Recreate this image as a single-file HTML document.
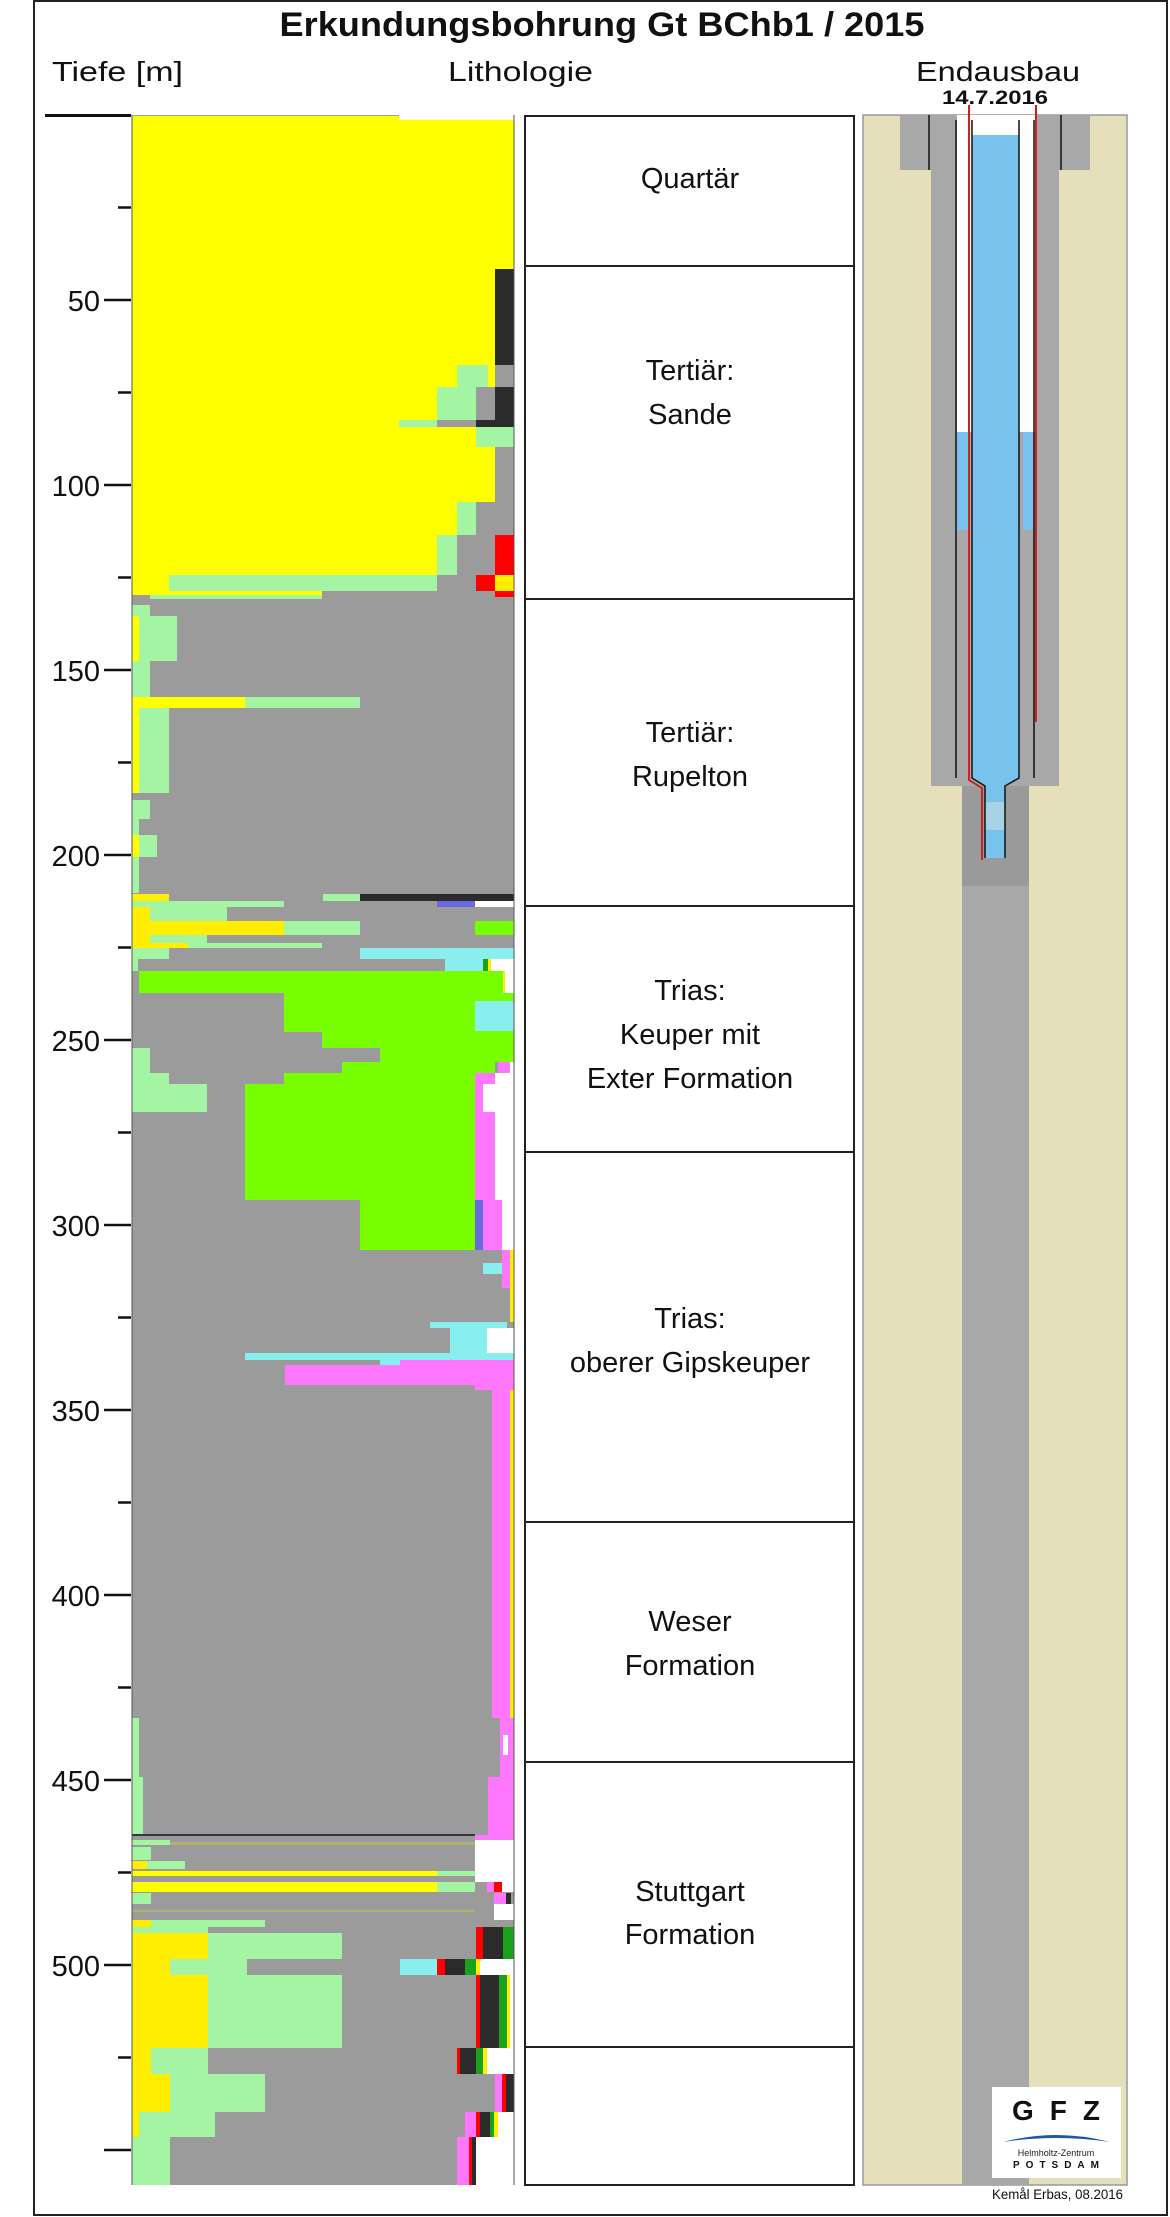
<!DOCTYPE html>
<html><head><meta charset="utf-8"><style>html,body{margin:0;padding:0;background:#fff}svg{display:block}</style></head>
<body>
<svg width="1170" height="2217" viewBox="0 0 1170 2217" xmlns="http://www.w3.org/2000/svg" font-family="Liberation Sans, sans-serif">
<rect x="0" y="0" width="1170" height="2217" fill="#fff"/>
<rect x="34" y="1" width="1133" height="2214" fill="none" stroke="#222" stroke-width="2"/>
<text x="602" y="36" font-size="34" font-weight="bold" text-anchor="middle" textLength="645" lengthAdjust="spacingAndGlyphs" fill="#111">Erkundungsbohrung Gt BChb1 / 2015</text>
<text x="52" y="81" font-size="28" textLength="131" lengthAdjust="spacingAndGlyphs" fill="#111">Tiefe [m]</text>
<text x="448" y="81" font-size="28" textLength="145" lengthAdjust="spacingAndGlyphs" fill="#111">Lithologie</text>
<text x="916" y="81" font-size="28" textLength="164" lengthAdjust="spacingAndGlyphs" fill="#111">Endausbau</text>
<text x="942" y="104" font-size="19" font-weight="bold" textLength="106" lengthAdjust="spacingAndGlyphs" fill="#111">14.7.2016</text>

<!-- depth axis -->
<line x1="45" y1="115.5" x2="131" y2="115.5" stroke="#111" stroke-width="3"/>
<g stroke="#111" stroke-width="2.5">
<line x1="118" y1="207.5" x2="131" y2="207.5"/><line x1="104" y1="300" x2="131" y2="300"/>
<line x1="118" y1="392.5" x2="131" y2="392.5"/><line x1="104" y1="485" x2="131" y2="485"/>
<line x1="118" y1="577.5" x2="131" y2="577.5"/><line x1="104" y1="670" x2="131" y2="670"/>
<line x1="118" y1="762.5" x2="131" y2="762.5"/><line x1="104" y1="855" x2="131" y2="855"/>
<line x1="118" y1="947.5" x2="131" y2="947.5"/><line x1="104" y1="1040" x2="131" y2="1040"/>
<line x1="118" y1="1132.5" x2="131" y2="1132.5"/><line x1="104" y1="1225" x2="131" y2="1225"/>
<line x1="118" y1="1317.5" x2="131" y2="1317.5"/><line x1="104" y1="1410" x2="131" y2="1410"/>
<line x1="118" y1="1502.5" x2="131" y2="1502.5"/><line x1="104" y1="1595" x2="131" y2="1595"/>
<line x1="118" y1="1687.5" x2="131" y2="1687.5"/><line x1="104" y1="1780" x2="131" y2="1780"/>
<line x1="118" y1="1872.5" x2="131" y2="1872.5"/><line x1="104" y1="1965" x2="131" y2="1965"/>
<line x1="118" y1="2057.5" x2="131" y2="2057.5"/><line x1="104" y1="2150" x2="131" y2="2150"/>
</g>
<g font-size="29" text-anchor="end" fill="#111">
<text x="100" y="311">50</text><text x="100" y="496">100</text><text x="100" y="681">150</text>
<text x="100" y="866">200</text><text x="100" y="1051">250</text><text x="100" y="1236">300</text>
<text x="100" y="1421">350</text><text x="100" y="1606">400</text><text x="100" y="1791">450</text>
<text x="100" y="1976">500</text>
</g>

<!-- lithology -->
<g shape-rendering="crispEdges">
<rect x="132" y="115" width="382" height="2070" fill="#9b9b9b"/>
<rect x="132" y="116" width="382" height="484" fill="#ffff00"/>
<rect x="399" y="115" width="115" height="5" fill="#fff"/>
<rect x="495" y="269" width="19" height="96" fill="#2b2b2b"/>
<rect x="457" y="365" width="31" height="22" fill="#a3f5a3"/>
<rect x="495" y="365" width="19" height="22" fill="#9b9b9b"/>
<rect x="437" y="387" width="39" height="33" fill="#a3f5a3"/>
<rect x="476" y="387" width="19" height="33" fill="#9b9b9b"/>
<rect x="495" y="387" width="19" height="33" fill="#2b2b2b"/>
<rect x="399" y="420" width="38" height="7" fill="#a3f5a3"/>
<rect x="437" y="420" width="39" height="7" fill="#9b9b9b"/>
<rect x="476" y="420" width="38" height="7" fill="#2b2b2b"/>
<rect x="476" y="427" width="38" height="20" fill="#a3f5a3"/>
<rect x="495" y="447" width="19" height="55" fill="#9b9b9b"/>
<rect x="457" y="502" width="19" height="33" fill="#a3f5a3"/>
<rect x="476" y="502" width="38" height="33" fill="#9b9b9b"/>
<rect x="437" y="535" width="20" height="40" fill="#a3f5a3"/>
<rect x="457" y="535" width="38" height="40" fill="#9b9b9b"/>
<rect x="495" y="535" width="19" height="40" fill="#ff0000"/>
<rect x="169" y="575" width="268" height="16" fill="#a3f5a3"/>
<rect x="437" y="575" width="39" height="16" fill="#9b9b9b"/>
<rect x="476" y="575" width="19" height="16" fill="#ff0000"/>
<rect x="495" y="575" width="19" height="16" fill="#ffee00"/>
<rect x="132" y="591" width="382" height="9" fill="#9b9b9b"/>
<rect x="132" y="591" width="190" height="4" fill="#ffff00"/>
<rect x="150" y="595" width="172" height="4" fill="#a3f5a3"/>
<rect x="495" y="591" width="19" height="6" fill="#ff0000"/>
<!-- Rupelton -->
<rect x="132" y="605" width="18" height="11" fill="#a3f5a3"/>
<rect x="132" y="616" width="7" height="45" fill="#ffff00"/>
<rect x="139" y="616" width="38" height="45" fill="#a3f5a3"/>
<rect x="132" y="661" width="18" height="36" fill="#a3f5a3"/>
<rect x="132" y="697" width="113" height="11" fill="#ffff00"/>
<rect x="245" y="697" width="115" height="11" fill="#a3f5a3"/>
<rect x="132" y="708" width="7" height="85" fill="#ffff00"/>
<rect x="139" y="708" width="30" height="85" fill="#a3f5a3"/>
<rect x="132" y="800" width="18" height="19" fill="#a3f5a3"/>
<rect x="132" y="819" width="7" height="16" fill="#a3f5a3"/>
<rect x="132" y="835" width="7" height="22" fill="#ffff00"/>
<rect x="139" y="835" width="18" height="22" fill="#a3f5a3"/>
<rect x="132" y="857" width="7" height="36" fill="#a3f5a3"/>
<rect x="132" y="894" width="37" height="7" fill="#ffee00"/>
<rect x="323" y="894" width="37" height="7" fill="#a3f5a3"/>
<rect x="360" y="894" width="154" height="7" fill="#2b2b2b"/>
<rect x="132" y="901" width="152" height="6" fill="#a3f5a3"/>
<rect x="437" y="901" width="38" height="6" fill="#6a6ae0"/>
<rect x="475" y="901" width="39" height="6" fill="#fff"/>
<!-- Keuper -->
<rect x="132" y="907" width="18" height="14" fill="#ffee00"/>
<rect x="150" y="907" width="77" height="14" fill="#a3f5a3"/>
<rect x="132" y="921" width="152" height="14" fill="#ffee00"/>
<rect x="284" y="921" width="76" height="14" fill="#a3f5a3"/>
<rect x="475" y="921" width="39" height="14" fill="#77ff00"/>
<rect x="132" y="935" width="18" height="8" fill="#ffee00"/>
<rect x="150" y="935" width="57" height="8" fill="#a3f5a3"/>
<rect x="132" y="943" width="56" height="5" fill="#ffee00"/>
<rect x="188" y="943" width="134" height="5" fill="#a3f5a3"/>
<rect x="132" y="948" width="37" height="11" fill="#a3f5a3"/>
<rect x="360" y="948" width="154" height="11" fill="#88eeee"/>
<rect x="132" y="959" width="6" height="12" fill="#a3f5a3"/>
<rect x="445" y="959" width="38" height="12" fill="#88eeee"/>
<rect x="483" y="959" width="5" height="12" fill="#1aa01a"/>
<rect x="488" y="959" width="3" height="12" fill="#ffee00"/>
<rect x="491" y="959" width="23" height="34" fill="#fff"/>
<rect x="139" y="971" width="364" height="22" fill="#77ff00"/>
<rect x="503" y="971" width="2" height="22" fill="#ffee00"/>
<rect x="284" y="993" width="230" height="39" fill="#77ff00"/>
<rect x="475" y="1001" width="39" height="30" fill="#88eeee"/>
<rect x="322" y="1032" width="192" height="16" fill="#77ff00"/>
<rect x="132" y="1048" width="18" height="25" fill="#a3f5a3"/>
<rect x="380" y="1048" width="134" height="14" fill="#77ff00"/>
<rect x="342" y="1062" width="153" height="11" fill="#77ff00"/>
<rect x="498" y="1062" width="12" height="11" fill="#ff77ff"/>
<rect x="510" y="1062" width="4" height="11" fill="#fff"/>
<rect x="132" y="1073" width="37" height="11" fill="#a3f5a3"/>
<rect x="284" y="1073" width="191" height="11" fill="#77ff00"/>
<rect x="475" y="1073" width="20" height="11" fill="#ff77ff"/>
<rect x="495" y="1073" width="19" height="127" fill="#fff"/>
<rect x="132" y="1084" width="75" height="28" fill="#a3f5a3"/>
<rect x="245" y="1084" width="230" height="116" fill="#77ff00"/>
<rect x="475" y="1084" width="8" height="28" fill="#ff77ff"/>
<rect x="483" y="1084" width="12" height="28" fill="#fff"/>
<rect x="475" y="1112" width="20" height="88" fill="#ff77ff"/>
<!-- Gipskeuper -->
<rect x="360" y="1200" width="115" height="50" fill="#77ff00"/>
<rect x="475" y="1200" width="8" height="50" fill="#6a6ae0"/>
<rect x="483" y="1200" width="19" height="50" fill="#ff77ff"/>
<rect x="502" y="1200" width="12" height="50" fill="#fff"/>
<rect x="502" y="1250" width="8" height="38" fill="#ff77ff"/>
<rect x="510" y="1250" width="4" height="72" fill="#ffee00"/>
<rect x="483" y="1263" width="19" height="11" fill="#88eeee"/>
<rect x="430" y="1322" width="77" height="6" fill="#88eeee"/>
<rect x="450" y="1328" width="37" height="25" fill="#88eeee"/>
<rect x="487" y="1328" width="27" height="25" fill="#fff"/>
<rect x="245" y="1353" width="269" height="7" fill="#88eeee"/>
<rect x="380" y="1360" width="20" height="5" fill="#88eeee"/>
<rect x="400" y="1360" width="114" height="5" fill="#ff77ff"/>
<rect x="285" y="1365" width="229" height="20" fill="#ff77ff"/>
<rect x="475" y="1385" width="39" height="5" fill="#ff77ff"/>
<rect x="492" y="1390" width="18" height="328" fill="#ff77ff"/>
<rect x="510" y="1390" width="4" height="328" fill="#ffee00"/>
<!-- Weser / Stuttgart -->
<rect x="132" y="1718" width="7" height="59" fill="#a3f5a3"/>
<rect x="500" y="1718" width="14" height="59" fill="#ff77ff"/>
<rect x="503" y="1735" width="5" height="20" fill="#fff"/>
<rect x="132" y="1777" width="11" height="57" fill="#a3f5a3"/>
<rect x="488" y="1777" width="26" height="58" fill="#ff77ff"/>
<rect x="132" y="1834" width="343" height="2" fill="#334"/>
<rect x="475" y="1835" width="39" height="5" fill="#ff77ff"/>
<rect x="475" y="1840" width="39" height="42" fill="#fff"/>
<rect x="132" y="1840" width="38" height="5" fill="#a3f5a3"/>
<rect x="170" y="1842" width="305" height="3" fill="#b0b070"/>
<rect x="132" y="1847" width="19" height="13" fill="#a3f5a3"/>
<rect x="132" y="1861" width="15" height="8" fill="#ffee00"/>
<rect x="147" y="1861" width="38" height="8" fill="#a3f5a3"/>
<rect x="132" y="1871" width="305" height="5" fill="#ffff00"/>
<rect x="437" y="1871" width="38" height="5" fill="#a3f5a3"/>
<rect x="132" y="1882" width="305" height="10" fill="#ffff00"/>
<rect x="437" y="1882" width="38" height="10" fill="#a3f5a3"/>
<rect x="487" y="1882" width="7" height="10" fill="#ff77ff"/>
<rect x="494" y="1882" width="8" height="10" fill="#ff0000"/>
<rect x="502" y="1882" width="12" height="10" fill="#fff"/>
<rect x="132" y="1893" width="19" height="11" fill="#a3f5a3"/>
<rect x="494" y="1893" width="12" height="11" fill="#ff77ff"/>
<rect x="506" y="1893" width="5" height="11" fill="#2b2b2b"/>
<rect x="494" y="1904" width="20" height="16" fill="#fff"/>
<rect x="132" y="1910" width="343" height="2" fill="#b0b070"/>
<rect x="132" y="1920" width="19" height="7" fill="#ffee00"/>
<rect x="151" y="1920" width="114" height="7" fill="#a3f5a3"/>
<rect x="132" y="1927" width="76" height="6" fill="#a3f5a3"/>
<rect x="476" y="1927" width="7" height="32" fill="#ff0000"/>
<rect x="483" y="1927" width="20" height="32" fill="#2b2b2b"/>
<rect x="503" y="1927" width="11" height="32" fill="#1aa01a"/>
<rect x="132" y="1933" width="76" height="26" fill="#ffee00"/>
<rect x="208" y="1933" width="134" height="26" fill="#a3f5a3"/>
<rect x="132" y="1959" width="38" height="16" fill="#ffee00"/>
<rect x="170" y="1959" width="77" height="16" fill="#a3f5a3"/>
<rect x="400" y="1959" width="37" height="16" fill="#88eeee"/>
<rect x="437" y="1959" width="8" height="16" fill="#ff0000"/>
<rect x="445" y="1959" width="20" height="16" fill="#2b2b2b"/>
<rect x="465" y="1959" width="11" height="16" fill="#1aa01a"/>
<rect x="476" y="1959" width="4" height="16" fill="#ffee00"/>
<rect x="480" y="1959" width="34" height="16" fill="#fff"/>
<rect x="132" y="1975" width="76" height="73" fill="#ffee00"/>
<rect x="208" y="1975" width="134" height="73" fill="#a3f5a3"/>
<rect x="476" y="1975" width="4" height="73" fill="#ff0000"/>
<rect x="480" y="1975" width="19" height="73" fill="#2b2b2b"/>
<rect x="499" y="1975" width="8" height="73" fill="#1aa01a"/>
<rect x="507" y="1975" width="3" height="73" fill="#ffee00"/>
<rect x="510" y="1975" width="4" height="73" fill="#fff"/>
<rect x="132" y="2048" width="19" height="26" fill="#ffee00"/>
<rect x="151" y="2048" width="57" height="26" fill="#a3f5a3"/>
<rect x="457" y="2048" width="3" height="26" fill="#ff0000"/>
<rect x="460" y="2048" width="16" height="26" fill="#2b2b2b"/>
<rect x="476" y="2048" width="7" height="26" fill="#1aa01a"/>
<rect x="483" y="2048" width="4" height="26" fill="#ffee00"/>
<rect x="487" y="2048" width="27" height="26" fill="#fff"/>
<rect x="132" y="2074" width="38" height="38" fill="#ffee00"/>
<rect x="170" y="2074" width="95" height="38" fill="#a3f5a3"/>
<rect x="495" y="2074" width="7" height="38" fill="#ff77ff"/>
<rect x="502" y="2074" width="4" height="38" fill="#ff0000"/>
<rect x="506" y="2074" width="8" height="38" fill="#2b2b2b"/>
<rect x="132" y="2112" width="7" height="25" fill="#ffee00"/>
<rect x="139" y="2112" width="76" height="25" fill="#a3f5a3"/>
<rect x="465" y="2112" width="11" height="25" fill="#ff77ff"/>
<rect x="476" y="2112" width="4" height="25" fill="#ff0000"/>
<rect x="480" y="2112" width="10" height="25" fill="#2b2b2b"/>
<rect x="490" y="2112" width="4" height="25" fill="#1aa01a"/>
<rect x="494" y="2112" width="4" height="25" fill="#ffee00"/>
<rect x="498" y="2112" width="16" height="25" fill="#fff"/>
<rect x="132" y="2137" width="38" height="48" fill="#a3f5a3"/>
<rect x="457" y="2137" width="12" height="48" fill="#ff77ff"/>
<rect x="469" y="2137" width="3" height="48" fill="#ff0000"/>
<rect x="472" y="2137" width="4" height="48" fill="#2b2b2b"/>
<rect x="476" y="2137" width="38" height="48" fill="#fff"/>
</g>
<line x1="132" y1="115" x2="132" y2="2185" stroke="#555" stroke-width="1"/>
<line x1="514" y1="115" x2="514" y2="2185" stroke="#555" stroke-width="1"/>

<!-- formations -->
<rect x="525" y="116" width="329" height="2069" fill="#fff" stroke="#222" stroke-width="2"/>
<g stroke="#222" stroke-width="2">
<line x1="525" y1="266" x2="854" y2="266"/><line x1="525" y1="599" x2="854" y2="599"/>
<line x1="525" y1="906" x2="854" y2="906"/><line x1="525" y1="1152" x2="854" y2="1152"/>
<line x1="525" y1="1522" x2="854" y2="1522"/><line x1="525" y1="1762" x2="854" y2="1762"/>
<line x1="525" y1="2047" x2="854" y2="2047"/>
</g>
<g font-size="29" text-anchor="middle" fill="#111">
<text x="690" y="188">Quartär</text>
<text x="690" y="380">Tertiär:</text><text x="690" y="424">Sande</text>
<text x="690" y="742">Tertiär:</text><text x="690" y="786">Rupelton</text>
<text x="690" y="1000">Trias:</text><text x="690" y="1044">Keuper mit</text><text x="690" y="1088">Exter Formation</text>
<text x="690" y="1328">Trias:</text><text x="690" y="1372">oberer Gipskeuper</text>
<text x="690" y="1631">Weser</text><text x="690" y="1675">Formation</text>
<text x="690" y="1901">Stuttgart</text><text x="690" y="1944">Formation</text>
</g>

<!-- casing -->
<rect x="863" y="115" width="264" height="2070" fill="#e6dfbc" stroke="#999" stroke-width="1.5"/>
<rect x="900" y="115" width="190" height="55" fill="#a8a8a8"/>
<rect x="931" y="115" width="128" height="671" fill="#a8a8a8"/>
<rect x="957" y="115" width="79" height="317" fill="#fff"/>
<rect x="957" y="432" width="12" height="98" fill="#78c3ee"/>
<rect x="1023" y="432" width="10" height="98" fill="#78c3ee"/>
<rect x="957" y="530" width="12" height="256" fill="#a8a8a8"/>
<rect x="1019" y="530" width="17" height="256" fill="#a8a8a8"/>
<rect x="962" y="786" width="67" height="100" fill="#9a9a9a"/>
<rect x="962" y="886" width="67" height="1299" fill="#a8a8a8"/>
<rect x="972" y="135" width="47" height="643" fill="#78c3ee"/>
<polygon points="972,778 1019,778 1005,786 1005,858 985,858 985,786" fill="#78c3ee"/>
<rect x="985" y="802" width="20" height="28" fill="#a8d2e6"/>
<g fill="none" stroke="#111" stroke-width="1.5">
<line x1="929" y1="115" x2="929" y2="170"/><line x1="1061" y1="115" x2="1061" y2="170"/>
<line x1="956" y1="120" x2="956" y2="778"/><line x1="1034" y1="120" x2="1034" y2="778"/>
<polyline points="972,120 972,778 985,786 985,858"/>
<polyline points="1019,120 1019,778 1005,786 1005,858"/>
</g>
<g fill="none" stroke="#cc2222" stroke-width="2">
<polyline points="969,105 969,780 982,788 982,860"/>
<line x1="1036" y1="105" x2="1036" y2="722"/>
</g>

<!-- logo -->
<rect x="992" y="2087" width="129" height="91" fill="#fff"/>
<text x="1056" y="2120" font-size="28" font-weight="bold" text-anchor="middle" textLength="88" lengthAdjust="spacing" fill="#111">GFZ</text>
<path d="M1003,2142 Q1056,2128 1110,2142 Q1056,2134 1003,2142Z" fill="#1d5aa0"/>
<text x="1056" y="2156" font-size="9" text-anchor="middle" fill="#222">Helmholtz-Zentrum</text>
<text x="1056" y="2168" font-size="10" font-weight="bold" text-anchor="middle" textLength="86" lengthAdjust="spacing" fill="#111">POTSDAM</text>
<text x="992" y="2199" font-size="14" textLength="131" lengthAdjust="spacingAndGlyphs" fill="#111">Kemål Erbas, 08.2016</text>
</svg>
</body></html>
